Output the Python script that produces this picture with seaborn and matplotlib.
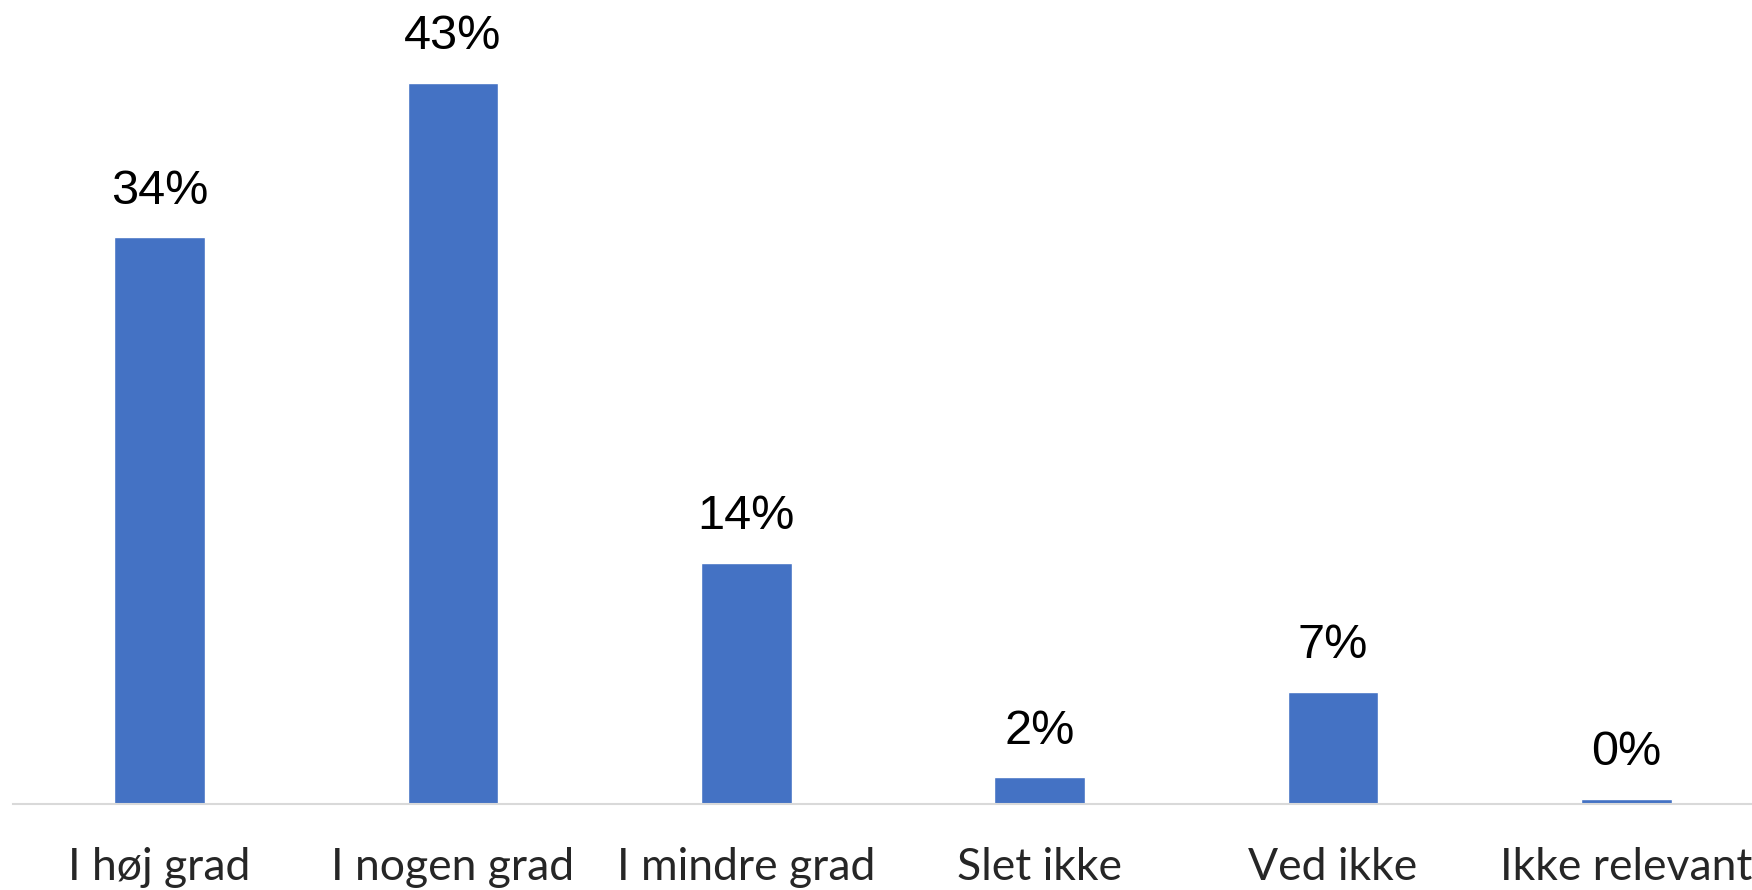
import matplotlib
matplotlib.use("Agg")
import matplotlib.pyplot as plt
import seaborn as sns
import pandas as pd

# Survey answers and their shares (%)
categories = ["I høj grad", "I nogen grad", "I mindre grad", "Slet ikke", "Ved ikke", "Ikke relevant"]
shares = [33.8, 43.0, 14.4, 1.6, 6.7, 0.3]

sns.set_theme(style="white")
plt.rcParams['font.family'] = ['Liberation Sans', 'DejaVu Sans']

df = pd.DataFrame({"svar": categories, "andel": shares})

W, H = 1752, 890
fig = plt.figure(figsize=(W / 100, H / 100), dpi=100)
ax = fig.add_axes([13 / W, 86 / H, 1760 / W, 788 / H])

sns.barplot(data=df, x="svar", y="andel", color="#4472C4", saturation=1,
            width=0.31, ax=ax)

ax.set_xlim(-0.5, 5.5)
ax.set_ylim(0, 47)
ax.set_xlabel("")
ax.set_ylabel("")
ax.set_yticks([])

for side in ["top", "right", "left"]:
    ax.spines[side].set_visible(False)
ax.spines["bottom"].set_color("#d9d9d9")
ax.spines["bottom"].set_linewidth(1.5)

ax.tick_params(axis="x", length=0, pad=31)
for lbl in ax.get_xticklabels():
    lbl.set_fontfamily(["Lato", "DejaVu Sans"])
    lbl.set_fontsize(32)

ax.bar_label(ax.containers[0], labels=[f"{v:.0f}%" for v in shares],
             padding=17, fontsize=35, color="black")

fig.savefig("out.png", dpi=100)
